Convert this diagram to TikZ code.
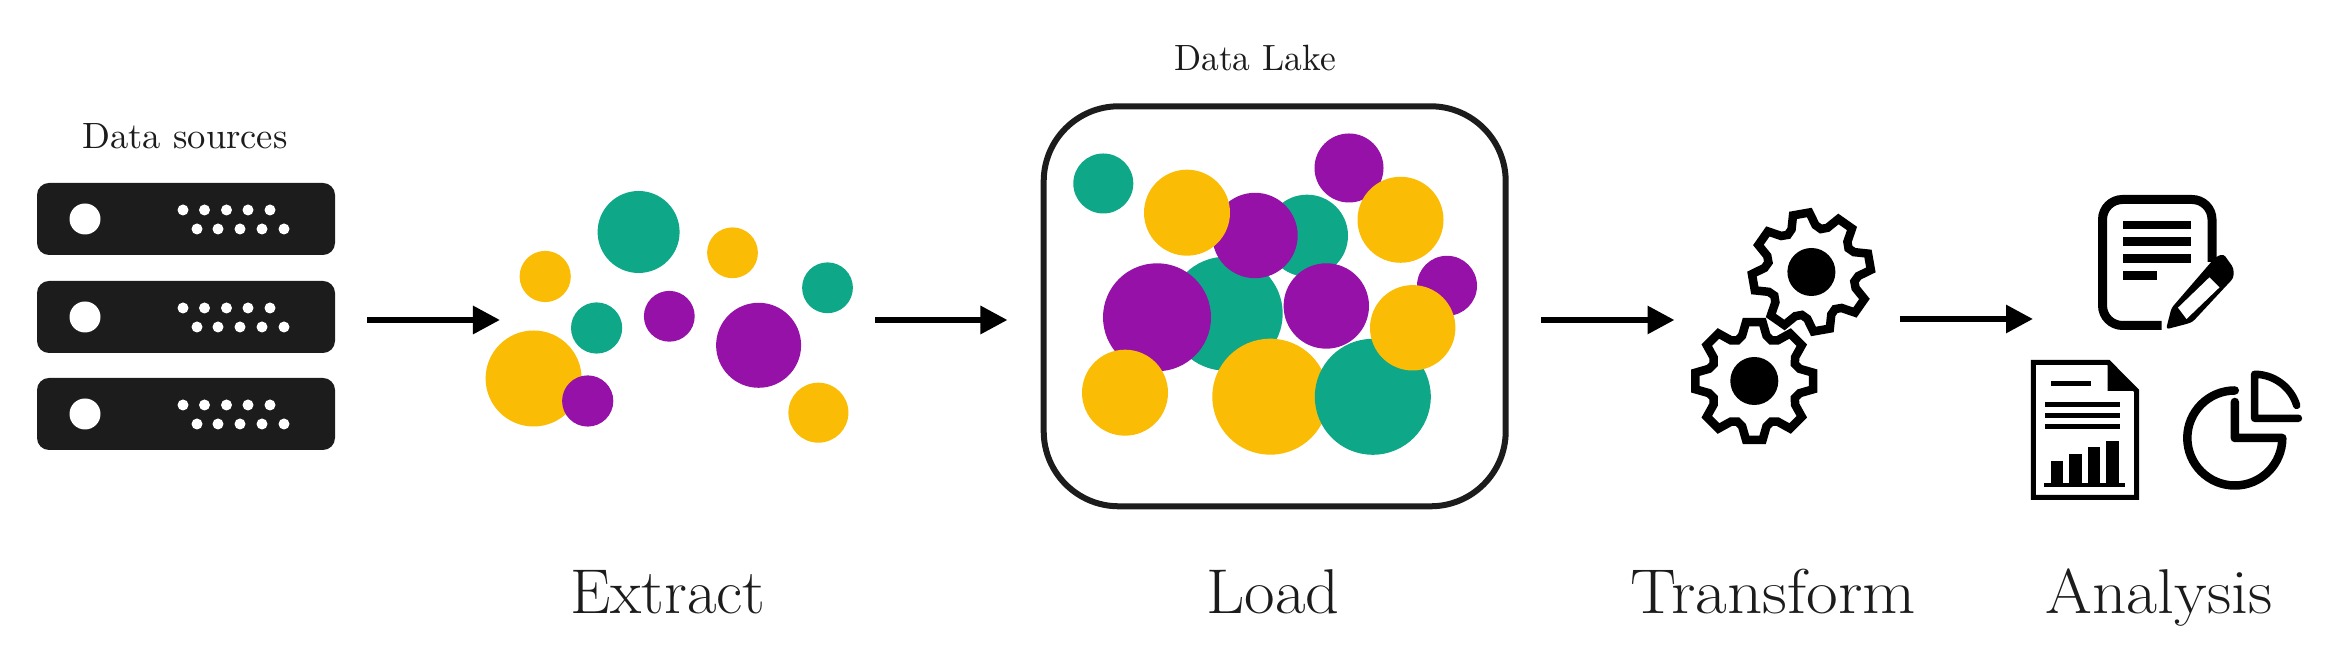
\documentclass[tikz,border=0pt]{standalone}
\usepackage{tikz}
\usepackage{graphicx}
\usetikzlibrary{arrows.meta, positioning}
\definecolor{inkgray}{HTML}{1C1C1C}
\definecolor{lakegreen}{HTML}{0EA888}
\definecolor{lakeyellow}{HTML}{FBBC05}
\definecolor{lakepurple}{HTML}{9511A8}
\tikzset{
	flowarrow/.style={line width=0.06cm, -{Triangle[length=0.27cm, width=0.27cm]}},
	smalllabel/.style={text=inkgray, inner sep=0pt, font=\fontsize{10.4}{12}\selectfont, anchor=base},
	steplabel/.style={text=inkgray, inner sep=0pt, font=\fontsize{18}{21}\selectfont, anchor=base},
	iconline/.style={line width=0.085cm, line cap=round, line join=round},
}

\begin{document}
\begin{tikzpicture}[x=0.01cm, y=-0.01cm]
	\useasboundingbox (0,0) rectangle (2348,665);

	% labels:
	\node [smalllabel] (sourceslabel) at (185,149) {Data sources};
	\node [smalllabel] (lakelabel) at (1255,71) {\scalebox{0.97}[1]{Data Lake}};
	\node [steplabel] (extractlabel) at (668,614) {\scalebox{1.015}[1]{Extract}};
	\node [steplabel] (loadlabel) at (1273,614) {\scalebox{1.05}[1]{Load}};
	\node [steplabel] (transformlabel) at (1773,614) {\scalebox{1.09}[1]{Transform}};
	\node [steplabel] (analysislabel) at (2159,614) {\scalebox{1.065}[1]{Analysis}};

	% servers
	\foreach \y in {183,281,378}{
		\fill [inkgray, rounded corners=0.12cm] (37,\y) rectangle (335,\y+72);
		\fill [white] (85,\y+36) circle [radius=15.5];
		\foreach \x in {183,204.5,226.5,248,270}{
			\fill [white] (\x,\y+27) circle [radius=5.5];
		}
		\foreach \x in {197,218,240,262,284}{
			\fill [white] (\x,\y+46) circle [radius=5.5];
		}
	}

	% scattered circles
	\foreach \x/\y/\r/\c in {
		638.6/232/41/lakegreen, 545.2/276.5/25.6/lakeyellow, 732.5/252.8/25.4/lakeyellow,
		827.5/287.8/25.4/lakegreen, 596.6/328/25.6/lakegreen, 669.3/316.3/25.4/lakepurple,
		758.6/345.3/42.5/lakepurple, 533.6/378.5/48/lakeyellow, 587.7/401/25.6/lakepurple,
		818.4/412.7/30/lakeyellow}{
		\fill [\c] (\x,\y) circle [radius=\r];
	}

	% lake
	\draw [inkgray, line width=0.06cm, rounded corners=0.75cm] (1043.7,106.3) rectangle (1505.7,506.3);
	\foreach \x/\y/\r/\c in {
		1225.7/313.7/57/lakegreen, 1307/235.7/41/lakegreen, 1157/317.3/54/lakepurple,
		1255/235.5/42.7/lakepurple, 1326.3/306/42.7/lakepurple, 1349/168/34.5/lakepurple,
		1447/285.8/30/lakepurple, 1187/212.7/43/lakeyellow, 1400.5/219.8/43/lakeyellow,
		1125/392.7/43/lakeyellow, 1270.3/396.7/58/lakeyellow, 1103.3/183.5/30/lakegreen,
		1372.8/396.8/58/lakegreen, 1412.7/327.8/42.7/lakeyellow}{
		\fill [\c] (\x,\y) circle [radius=\r];
	}

	% gears
	\foreach \cx/\cy/\rot in {1811.4/272/10,1754.3/381/0}{
		\begin{scope}[shift={(\cx,\cy)}, rotate=\rot]
			\draw [line width=0.085cm, fill=white, miter limit=4] (-8:59.5)
				\foreach \a in {0,45,...,315}{
					-- (\a-8:59.5) -- (\a+8:59.5) -- (\a+15:47) -- (\a+22.5:44) -- (\a+30:47)
				} -- cycle;
			\fill (0,0) circle [radius=24];
		\end{scope}
	}

	% notes with pen
	\draw [line width=0.09cm, rounded corners=0.2cm] (2212,262)--(2212,199.5)--(2102.5,199.5)--(2102.5,325.5)--(2161.5,325.5);
	\foreach \y/\e in {220.7/2191,237.3/2191,254/2191,271/2157}{
		\fill (2123.4,\y) rectangle (\e,\y+8.6);
	}
	\fill [rounded corners=0.03cm] (2166,329.3)--(2171.5,308)--(2215.5,257)--(2223.5,254)--(2233.5,268)--(2233.5,278)--(2192.5,322)--(2186.5,324)--cycle;
	\fill [white] (2178,307.7)--(2209.5,277.3)--(2219.5,287.3)--(2186.5,319)--cycle;

	% report
	\draw [line width=0.05cm] (2033.3,362.5)--(2108.5,362.5)--(2136.7,391)--(2136.7,497.5)--(2033.3,497.5)--cycle;
	\fill (2107.6,360)--(2139,391)--(2107.6,391)--cycle;
	\fill (2051,381) rectangle (2091,386);
	\foreach \y in {402,413,424}{
		\fill (2044.8,\y) rectangle (2119.9,\y+5);
	}
	\fill (2044,482.7) rectangle (2125,486.7);
	\foreach \x/\y in {2051/460.7,2069.4/454,2087.8/447.3,2106.3/441}{
		\fill (\x,\y) rectangle (\x+12.2,483);
	}

	% pie
	\draw [iconline] (2234.8,390.5) arc [start angle=-90, end angle=-360, radius=47.5] -- (2234.8,438) -- (2234.8,402);
	\draw [line width=0.075cm, line cap=round, line join=round] (2254.6,374.3) arc [start angle=-90, end angle=-17, radius=44] (2254.6,374.3) -- (2254.6,418.3) -- (2298.4,418.3);

	% arrows
	\coordinate (arrowa1) at (367,320);
	\coordinate (arrowa2) at (500,320);
	\coordinate (arrowb1) at (875.4,320);
	\coordinate (arrowb2) at (1007.5,320);
	\coordinate (arrowc1) at (1541,320);
	\coordinate (arrowc2) at (1674.5,320);
	\coordinate (arrowd1) at (1900,319);
	\coordinate (arrowd2) at (2033,319);
	\draw [flowarrow] (arrowa1)--(arrowa2);
	\draw [flowarrow] (arrowb1)--(arrowb2);
	\draw [flowarrow] (arrowc1)--(arrowc2);
	\draw [flowarrow] (arrowd1)--(arrowd2);
\end{tikzpicture}
\end{document}
